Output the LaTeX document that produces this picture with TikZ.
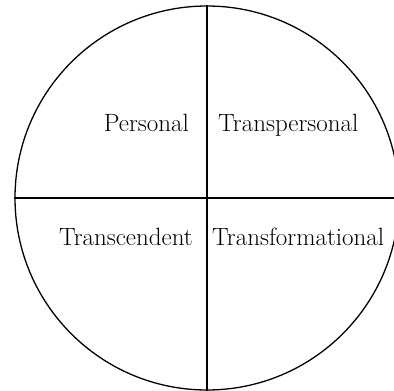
\documentclass[tikz,border=0pt]{standalone}
\usetikzlibrary{positioning}
\definecolor{cEdge}{RGB}{0,0,0}
\tikzset{
  ring/.style={
    circle, draw=cEdge, line width=1.3pt, inner sep=0pt,
    minimum size=384pt,
  },
  lab/.style={inner sep=0pt, text=cEdge, font=\fontsize{25}{29}\selectfont},
  div/.style={line width=1.3pt, draw=cEdge},
}
\begin{document}
\begin{tikzpicture}[x=1pt, y=-1pt]
\useasboundingbox (0,0) rectangle (394,391);
\clip (0,0) rectangle (394,391);

% ===== outer circle =====
\node[ring] (ring) at (207,198) {};

% ===== quadrant labels =====
\node[lab, anchor=base east] (pers) at (189,131) {Personal};
\node[lab, anchor=base west] (trp) at (218,131) {Transpersonal};
\node[lab, anchor=base east] (trc) at (193,245) {Transcendent};
\node[lab, anchor=base west] (trf) at (212,245) {Transformational};

% ===== dividing lines =====
\draw[div] (ring.north) -- (ring.south);
\draw[div] (ring.west) -- (ring.east);

\end{tikzpicture}
\end{document}
